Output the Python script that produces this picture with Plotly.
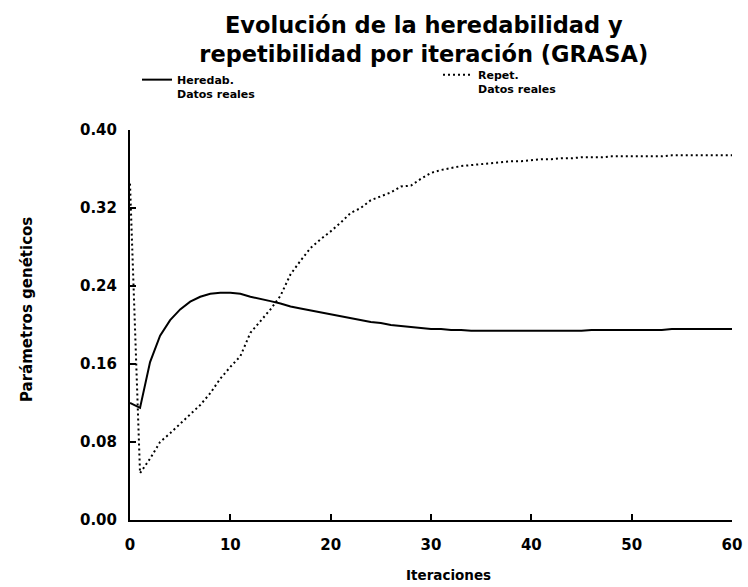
import plotly.graph_objects as go

iteraciones = list(range(0, 61))

heredab = [0.120, 0.115, 0.162, 0.189, 0.205, 0.216, 0.224, 0.229, 0.232, 0.233,
           0.233, 0.232, 0.229, 0.227, 0.2245, 0.222, 0.219, 0.217, 0.215, 0.213,
           0.211, 0.209, 0.207, 0.205, 0.203, 0.202, 0.200, 0.199, 0.198, 0.197,
           0.196, 0.196, 0.195, 0.195, 0.194, 0.194, 0.194, 0.194, 0.194, 0.194,
           0.194, 0.194, 0.194, 0.194, 0.194, 0.194, 0.195, 0.195, 0.195, 0.195,
           0.195, 0.195, 0.195, 0.195, 0.196, 0.196, 0.196, 0.196, 0.196, 0.196,
           0.196]

repet = [0.345, 0.048, 0.063, 0.080, 0.089, 0.099, 0.108, 0.118, 0.130, 0.145,
         0.157, 0.168, 0.192, 0.204, 0.216, 0.230, 0.252, 0.266, 0.279, 0.288,
         0.296, 0.305, 0.315, 0.320, 0.328, 0.332, 0.336, 0.342, 0.343, 0.350,
         0.356, 0.359, 0.361, 0.363, 0.364, 0.365, 0.366, 0.367, 0.368, 0.368,
         0.369, 0.370, 0.370, 0.371, 0.371, 0.372, 0.372, 0.372, 0.373, 0.373,
         0.373, 0.373, 0.373, 0.373, 0.374, 0.374, 0.374, 0.374, 0.374, 0.374,
         0.374]

y_ticks = [0.00, 0.08, 0.16, 0.24, 0.32, 0.40]
x_ticks = [0, 10, 20, 30, 40, 50, 60]

titulo = "Evolución de la heredabilidad y<br>repetibilidad por iteración (GRASA)"
nombre_h = "Heredab.<br>Datos reales"
nombre_r = "Repet.<br>Datos reales"
titulo_x = "Iteraciones"
titulo_y = "Parámetros genéticos"

FONT = "DejaVu Sans"
leg_font = dict(family=FONT, size=11, color="black", weight="bold")

fig = go.Figure()
fig.add_trace(go.Scatter(x=iteraciones, y=heredab, mode="lines", name=nombre_h,
                         line=dict(color="black", width=2), cliponaxis=False,
                         legend="legend"))
fig.add_trace(go.Scatter(x=iteraciones, y=repet, mode="lines", name=nombre_r,
                         line=dict(color="black", width=2, dash="2px,3px"),
                         cliponaxis=False, legend="legend2"))

fig.update_layout(
    width=748, height=587,
    margin=dict(l=130, r=16, t=130, b=67, autoexpand=False),
    plot_bgcolor="white", paper_bgcolor="white",
    font=dict(family=FONT, color="black"),
    title=dict(text="<b>" + titulo + "</b>", font=dict(family=FONT, size=22.5, color="black"),
               x=0.488, xref="paper", xanchor="center",
               y=1 - 33 / 587, yref="container", yanchor="top"),
    showlegend=True,
    legend=dict(x=137 / 748, xref="container", xanchor="left",
                y=1 - 66 / 587, yref="container", yanchor="top", valign="top",
                font=leg_font, bgcolor="rgba(0,0,0,0)"),
    legend2=dict(x=438 / 748, xref="container", xanchor="left",
                 y=1 - 61 / 587, yref="container", yanchor="top", valign="top",
                 font=leg_font, bgcolor="rgba(0,0,0,0)"),
    xaxis=dict(range=[0, 60], tickvals=x_ticks, ticktext=[str(v) for v in x_ticks],
               showgrid=False, zeroline=False, showline=True, linecolor="black",
               linewidth=2, ticks="inside", ticklen=6, tickwidth=1.5,
               tickcolor="black", ticklabelstandoff=10,
               tickfont=dict(family=FONT, size=15, color="black", weight="bold")),
    yaxis=dict(range=[0, 0.40], tickvals=y_ticks, ticktext=[f"{v:.2f}" for v in y_ticks],
               showgrid=False, zeroline=False, showline=True, linecolor="black",
               linewidth=2, ticks="inside", ticklen=6, tickwidth=1.5,
               tickcolor="black", ticklabelstandoff=8,
               tickfont=dict(family=FONT, size=15, color="black", weight="bold")),
    annotations=[
        dict(text="<b>" + titulo_x + "</b>", xref="paper", yref="paper",
             x=(448 - 130) / 602, y=-(575 - 520) / 390, xanchor="center", yanchor="middle",
             showarrow=False, font=dict(family=FONT, size=13.5, color="black")),
        dict(text="<b>" + titulo_y + "</b>", xref="paper", yref="paper",
             x=-(130 - 27) / 602, y=(520 - 310) / 390, xanchor="center", yanchor="middle",
             textangle=-90, showarrow=False,
             font=dict(family=FONT, size=15, color="black")),
    ],
)

fig.write_html("out.html")
